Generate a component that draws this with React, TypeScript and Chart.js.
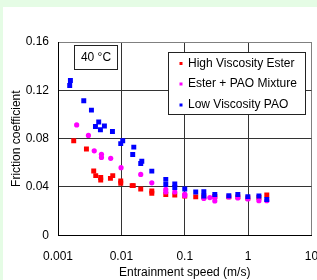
import React, { useEffect, useRef } from "react";
import { Chart, registerables } from "chart.js";

Chart.register(...registerables);

// ---- Data ----
const seriesNames = ["High Viscosity Ester", "Ester + PAO Mixture", "Low Viscosity PAO"];
const seriesColors = ["#ff0000", "#ff00ff", "#0000ff"];

const esterX = [0.00177, 0.00281, 0.00366, 0.00394, 0.00472, 0.00472, 0.00672, 0.00731, 0.00977, 0.00977, 0.0148, 0.0154, 0.0202, 0.0302, 0.0302, 0.0502, 0.0696, 0.1, 0.149, 0.2, 0.298, 0.496, 0.688, 0.99, 1.48, 1.97];
const esterY = [0.0782, 0.0715, 0.0533, 0.0494, 0.0479, 0.0458, 0.0471, 0.0494, 0.045, 0.0431, 0.0411, 0.0411, 0.0384, 0.0367, 0.0348, 0.0338, 0.0334, 0.0326, 0.0318, 0.0318, 0.0322, 0.0318, 0.0318, 0.0309, 0.0313, 0.0334];

const mixX = [0.00197, 0.00302, 0.00373, 0.00485, 0.00485, 0.00679, 0.00988, 0.0202, 0.0302, 0.0502, 0.0502, 0.0696, 0.1, 0.1, 0.2, 0.249, 0.298, 0.298, 0.496, 0.688, 0.99, 1.48, 1.97];
const mixY = [0.0914, 0.0827, 0.0699, 0.067, 0.0645, 0.0637, 0.056, 0.0504, 0.0434, 0.038, 0.0359, 0.0359, 0.0342, 0.0328, 0.0305, 0.0312, 0.0309, 0.0284, 0.0318, 0.0309, 0.0301, 0.0287, 0.0287];

const paoX = [0.00157, 0.00153, 0.00255, 0.00337, 0.00439, 0.0039, 0.0054, 0.00467, 0.00723, 0.0105, 0.00977, 0.0157, 0.0151, 0.021, 0.0202, 0.0302, 0.0502, 0.0502, 0.0696, 0.0696, 0.1, 0.149, 0.2, 0.2, 0.298, 0.496, 0.688, 0.99, 1.48, 1.97];
const paoY = [0.1282, 0.124, 0.1113, 0.1036, 0.0937, 0.09, 0.0904, 0.0873, 0.0859, 0.0782, 0.0759, 0.073, 0.0668, 0.0613, 0.0594, 0.0531, 0.0463, 0.0421, 0.0425, 0.0396, 0.0384, 0.0359, 0.0361, 0.0326, 0.0338, 0.0328, 0.0337, 0.032, 0.0326, 0.0297];

const xTickValues = [0.001, 0.01, 0.1, 1, 10];
const xTickLabels = ["0.001", "0.01", "0.1", "1", "10"];
const yTickValues = [0, 0.04, 0.08, 0.12, 0.16];
const yTickLabels = ["0", "0.04", "0.08", "0.12", "0.16"];

const xTitle = "Entrainment speed (m/s)";
const yTitle = "Friction coefficient";
const tempLabel = "40 °C";

const FONT = 'Arial, "Liberation Sans", sans-serif';

function pts(xs: number[], ys: number[]) {
  return xs.map((x, i) => ({ x, y: ys[i] }));
}

const bgPlugin = {
  id: "bg",
  beforeDraw(chart: any) {
    const { ctx, width, height } = chart;
    ctx.save();
    ctx.fillStyle = "rgb(229,252,229)";
    ctx.fillRect(0, 0, width, height);
    ctx.fillStyle = "#ffffff";
    ctx.fillRect(3, 7, width - 3, height - 7);
    ctx.restore();
  },
};

const boxesPlugin = {
  id: "boxes",
  afterDraw(chart: any) {
    const ctx = chart.ctx;
    ctx.save();
    ctx.font = `12px ${FONT}`;
    ctx.textBaseline = "middle";
    // temperature box
    ctx.fillStyle = "#fff";
    ctx.fillRect(74.5, 45.5, 43, 24);
    ctx.strokeStyle = "#222";
    ctx.lineWidth = 1;
    ctx.strokeRect(74.5, 45.5, 43, 24);
    ctx.fillStyle = "#000";
    ctx.textAlign = "center";
    ctx.fillText(tempLabel, 96, 57.5);
    // legend box
    ctx.fillStyle = "#fff";
    ctx.fillRect(168.5, 52.5, 137, 62);
    ctx.strokeStyle = "#222";
    ctx.strokeRect(168.5, 52.5, 137, 62);
    ctx.textAlign = "left";
    const rows = [63.5, 84, 105];
    seriesNames.forEach((name, i) => {
      ctx.fillStyle = seriesColors[i];
      ctx.fillRect(179.5, rows[i] - 1.5, 3, 3);
      ctx.fillStyle = "#000";
      ctx.fillText(name, 188, rows[i]);
    });
    ctx.restore();
  },
};

export default function App() {
  const ref = useRef<HTMLCanvasElement | null>(null);
  useEffect(() => {
    if (!ref.current) return;
    const chart = new Chart(ref.current, {
      type: "scatter",
      data: {
        datasets: [
          {
            label: seriesNames[0],
            data: pts(esterX, esterY),
            pointStyle: "rect",
            pointRadius: 3.5,
            backgroundColor: seriesColors[0],
            borderWidth: 0,
            order: 3,
          },
          {
            label: seriesNames[1],
            data: pts(mixX, mixY),
            pointStyle: "circle",
            pointRadius: 2.6,
            backgroundColor: seriesColors[1],
            borderWidth: 0,
            order: 2,
          },
          {
            label: seriesNames[2],
            data: pts(paoX, paoY),
            pointStyle: "rect",
            pointRadius: 3.5,
            backgroundColor: seriesColors[2],
            borderWidth: 0,
            order: 1,
          },
        ],
      },
      options: {
        responsive: false,
        animation: false,
        layout: { padding: { left: 0, right: 5.5, top: 42, bottom: 0 } },
        plugins: { legend: { display: false }, tooltip: { enabled: false } },
        scales: {
          x: {
            type: "logarithmic",
            min: 0.001,
            max: 10,
            afterBuildTicks: (s: any) => {
              s.ticks = xTickValues.map((v) => ({ value: v }));
            },
            afterFit: (s: any) => {
              s.height = 44.7;
              s.paddingLeft = 0;
              s.paddingRight = 0;
            },
            ticks: {
              padding: 14,
              color: "#000",
              font: { family: FONT, size: 12 },
              callback: (v: any) => {
                const i = xTickValues.indexOf(Number(v));
                return i >= 0 ? xTickLabels[i] : "";
              },
              autoSkip: false,
              maxRotation: 0,
            },
            grid: {
              drawTicks: false,
              color: (c: any) => (c.tick && c.tick.value === 10 ? "#808080" : "#333"),
              lineWidth: 1,
            },
            border: { color: "#000", width: 1 },
            title: {
              display: true,
              text: xTitle,
              color: "#000",
              font: { family: FONT, size: 12 },
              padding: { top: 0, bottom: 0 },
            },
          },
          y: {
            min: 0,
            max: 0.16,
            afterBuildTicks: (s: any) => {
              s.ticks = yTickValues.map((v) => ({ value: v }));
            },
            afterFit: (s: any) => {
              s.width = 58;
              s.paddingTop = 0;
              s.paddingBottom = 0;
            },
            ticks: {
              padding: 9,
              color: "#000",
              font: { family: FONT, size: 12 },
              callback: (v: any, i: number) => yTickLabels[i],
            },
            grid: {
              drawTicks: false,
              color: (c: any) => (c.tick && c.tick.value === 0.16 ? "#808080" : "#333"),
              lineWidth: 1,
            },
            border: { color: "#000", width: 1 },
            title: {
              display: true,
              text: yTitle,
              color: "#000",
              font: { family: FONT, size: 12 },
              padding: { top: 9, bottom: 0 },
            },
          },
        },
      },
      plugins: [bgPlugin, boxesPlugin],
    });
    return () => chart.destroy();
  }, []);
  return (
    <div style={{ position: "fixed", left: 0, top: 0, width: 317, height: 280 }}>
      <canvas ref={ref} width={317} height={280} style={{ display: "block" }} />
    </div>
  );
}
